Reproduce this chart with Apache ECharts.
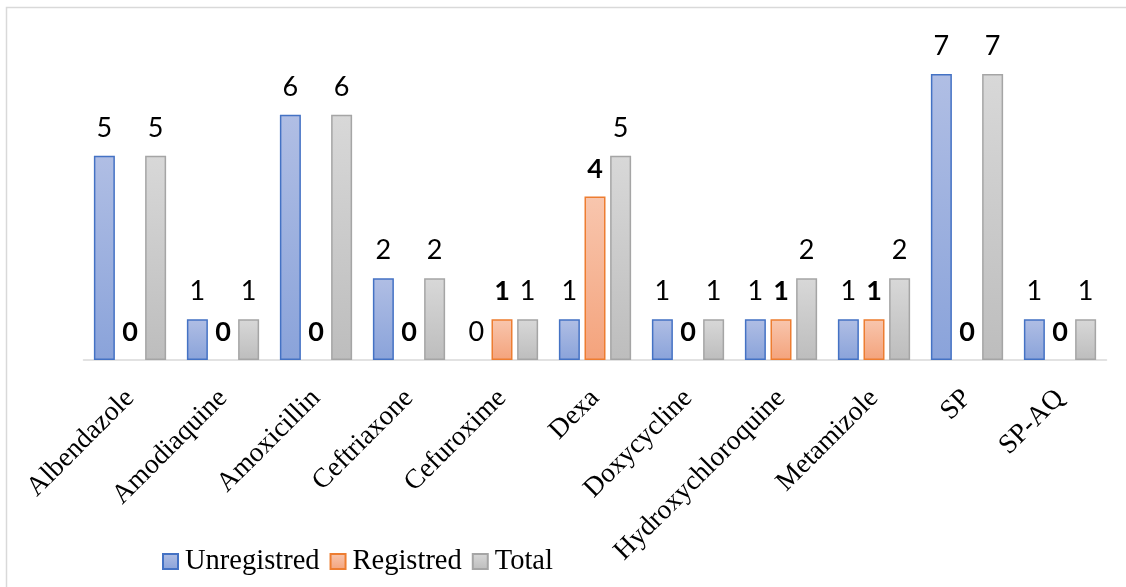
<!DOCTYPE html>
<html>
<head>
<meta charset="utf-8">
<script src="https://cdn.jsdelivr.net/npm/echarts@6/dist/echarts.min.js"></script>
<style>
  html, body { margin: 0; padding: 0; background: #ffffff; }
  #chart { width: 1126px; height: 587px; }
</style>
</head>
<body>
<div id="chart"></div>
<script>
// Drugs found, split by registration status
const categories = ['Albendazole', 'Amodiaquine', 'Amoxicillin', 'Ceftriaxone', 'Cefuroxime', 'Dexa',
  'Doxycycline', 'Hydroxychloroquine', 'Metamizole', 'SP', 'SP-AQ'];
const unregistred = [5, 1, 6, 2, 0, 1, 1, 1, 1, 7, 1];
const registred = [0, 0, 0, 0, 1, 4, 0, 1, 1, 0, 0];
const total = [5, 1, 6, 2, 1, 5, 1, 2, 2, 7, 1];
const seriesNames = ['Unregistred', 'Registred', 'Total'];

const serif = '"Liberation Serif", "Times New Roman", serif';
const sans = 'Lato, "Noto Sans", sans-serif';

function grad(top, bottom) {
  return new echarts.graphic.LinearGradient(0, 0, 0, 1, [
    { offset: 0, color: top },
    { offset: 1, color: bottom }
  ]);
}

// zero values keep their label but draw no outline
function withEmptyZeros(values) {
  return values.map(v => v === 0 ? { value: v, itemStyle: { borderWidth: 0, opacity: 0 } } : v);
}

function barSeries(name, data, top, bottom, border, bold) {
  return {
    name: name,
    type: 'bar',
    data: withEmptyZeros(data),
    barWidth: 21,
    barGap: '22%',
    itemStyle: { color: grad(top, bottom), borderColor: border, borderWidth: 1.5 },
    label: {
      show: true,
      position: 'top',
      distance: 14,
      fontFamily: sans,
      fontSize: 27,
      fontWeight: bold ? 'bold' : 'normal',
      color: '#000000',
      opacity: 1
    },
    emphasis: { disabled: true }
  };
}

const chart = echarts.init(document.getElementById('chart'));
chart.setOption({
  animation: false,
  backgroundColor: '#ffffff',
  graphic: [{
    type: 'rect',
    shape: { x: 6.5, y: 7.5, width: 1200, height: 700 },
    style: { fill: 'none', stroke: '#d9d9d9', lineWidth: 1.5 },
    silent: true
  }],
  grid: { left: 83.5, right: 19.5, top: 74, bottom: 227, containLabel: false },
  legend: {
    data: seriesNames,
    left: 157,
    top: 542,
    itemWidth: 15,
    itemHeight: 15,
    itemGap: 10,
    icon: 'rect',
    textStyle: { fontFamily: serif, fontSize: 28.5, color: '#000000', padding: [0, 0, 0, 2] }
  },
  xAxis: {
    type: 'category',
    data: categories,
    axisLine: { show: true, lineStyle: { color: '#d9d9d9', width: 1.5 } },
    axisTick: { show: false },
    axisLabel: {
      rotate: 45,
      interval: 0,
      margin: 34,
      fontFamily: serif,
      fontSize: 27.5,
      color: '#000000'
    }
  },
  yAxis: {
    type: 'value',
    min: 0,
    max: 7,
    show: false,
    splitLine: { show: false }
  },
  series: [
    barSeries(seriesNames[0], unregistred, '#b0bee4', '#8aa3da', '#4472c4', false),
    barSeries(seriesNames[1], registred, '#f8c6ae', '#f4a37c', '#ed7d31', true),
    barSeries(seriesNames[2], total, '#d8d8d8', '#bdbdbd', '#a5a5a5', false)
  ]
});
</script>
</body>
</html>
